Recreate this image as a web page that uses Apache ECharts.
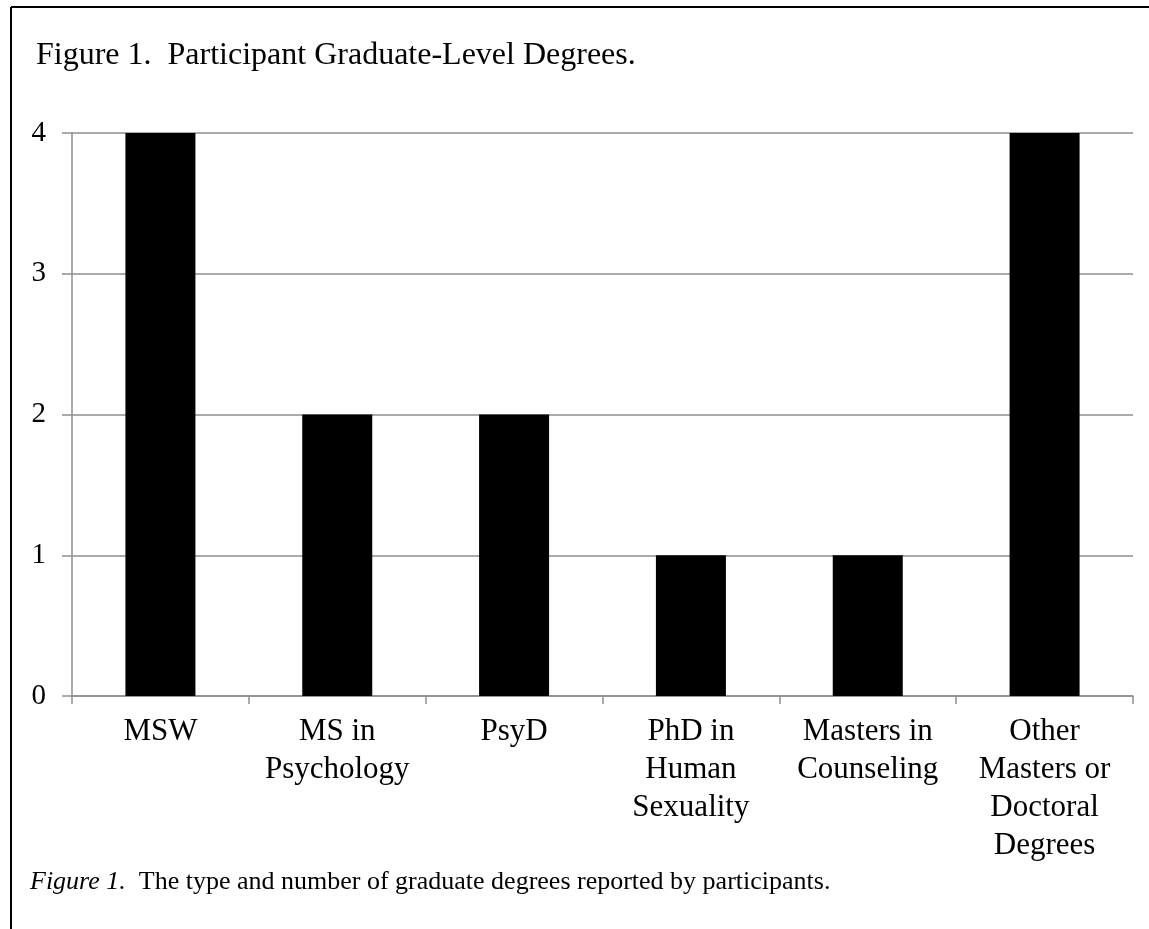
<!DOCTYPE html>
<html>
<head>
<meta charset="utf-8">
<script src="https://cdn.jsdelivr.net/npm/echarts@6/dist/echarts.min.js"></script>
<style>
  html, body { margin: 0; padding: 0; background: #fff; }
  #chart { width: 1149px; height: 929px; }
</style>
</head>
<body>
<div id="chart"></div>
<script>
// degrees reported
var categories = ['MSW', 'MS in\nPsychology', 'PsyD', 'PhD in\nHuman\nSexuality', 'Masters in\nCounseling', 'Other\nMasters or\nDoctoral\nDegrees'];
var counts = [4, 2, 2, 1, 1, 4];
var yTicks = [0, 1, 2, 3, 4];

var font = '"Liberation Serif", "Times New Roman", serif';
var grey = '#8e8e8e';

var chart = echarts.init(document.getElementById('chart'));

chart.setOption({
  animation: false,
  backgroundColor: '#fff',
  grid: { left: 72, right: 16, top: 133, bottom: 233 },
  xAxis: {
    type: 'category',
    data: categories,
    axisLine: { lineStyle: { color: grey, width: 1.5 } },
    axisTick: { show: true, length: 8, lineStyle: { color: grey, width: 1.5 } },
    axisLabel: {
      interval: 0, margin: 17,
      fontFamily: font, fontSize: 31, lineHeight: 38, color: '#000'
    }
  },
  yAxis: {
    type: 'value',
    min: yTicks[0],
    max: yTicks[yTicks.length - 1],
    interval: 1,
    axisLine: { show: true, lineStyle: { color: grey, width: 1.5 } },
    axisTick: { show: true, length: 10, lineStyle: { color: grey, width: 1.5 } },
    splitLine: { lineStyle: { color: grey, width: 1.5 } },
    axisLabel: { margin: 26, fontFamily: font, fontSize: 29, color: '#000' }
  },
  series: [{
    type: 'bar',
    data: counts,
    barWidth: 70,
    itemStyle: { color: '#000' }
  }],
  graphic: [
    // frame: top and left only
    { type: 'line', shape: { x1: 11, y1: 7, x2: 1149, y2: 7 }, style: { stroke: '#000', lineWidth: 2 } },
    { type: 'line', shape: { x1: 11, y1: 7, x2: 11, y2: 929 }, style: { stroke: '#000', lineWidth: 2 } },
    {
      type: 'text', left: 36, top: 40,
      style: { text: 'Figure 1.  Participant Graduate-Level Degrees.', font: '32px ' + font, fill: '#000' }
    },
    {
      type: 'text', left: 30, top: 869,
      style: {
        text: '{i|Figure 1.}  The type and number of graduate degrees reported by participants.',
        font: '26px ' + font, fill: '#000',
        rich: { i: { fontStyle: 'italic', fontFamily: font, fontSize: 26 } }
      }
    }
  ]
});
</script>
</body>
</html>
